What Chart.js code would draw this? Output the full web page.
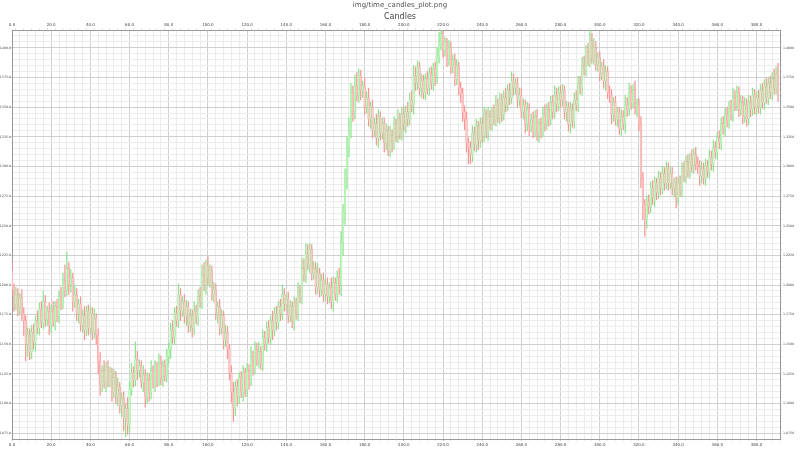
<!DOCTYPE html>
<html>
<head>
<meta charset="utf-8">
<script src="https://cdn.jsdelivr.net/npm/chart.js@4.4.1/dist/chart.umd.min.js"></script>
<style>
  body { margin: 0; background: #fff; }
  canvas { display: block; }
</style>
</head>
<body>
<canvas id="graph" width="800" height="450"></canvas>
<script>
// closing prices, one per candle (open = previous close)
const firstOpen = 1212;
const closes = [
  1196,1184,1192,1180,1189,1176,1170,1150,1158,1143,
  1160,1152,1170,1164,1180,1168,1186,1171,1178,1166,
  1178,1170,1182,1174,1190,1184,1204,1196,1214,1200,
  1206,1186,1192,1176,1184,1166,1174,1162,1178,1164,
  1176,1160,1172,1158,1136,1116,1128,1118,1130,1120,
  1126,1110,1122,1106,1114,1098,1104,1088,1096,1082,
  1112,1126,1120,1138,1128,1132,1118,1124,1106,1120,
  1110,1128,1118,1130,1120,1134,1122,1132,1124,1140,
  1146,1162,1156,1176,1170,1192,1178,1186,1174,1182,
  1166,1174,1164,1178,1172,1190,1186,1208,1200,1216,
  1206,1212,1192,1196,1176,1182,1164,1174,1154,1160,
  1146,1126,1110,1096,1114,1106,1122,1110,1126,1112,
  1128,1120,1140,1130,1146,1138,1144,1134,1156,1150,
  1164,1156,1170,1162,1176,1168,1182,1176,1192,1184,
  1188,1174,1182,1170,1184,1176,1194,1190,1214,1208,
  1226,1218,1230,1210,1214,1198,1210,1196,1204,1192,
  1200,1190,1198,1186,1202,1192,1206,1200,1236,1262,
  1290,1316,1330,1362,1346,1368,1360,1376,1364,1368,
  1350,1358,1340,1350,1330,1336,1324,1342,1328,1336,
  1320,1330,1314,1326,1320,1336,1326,1340,1328,1344,
  1336,1346,1340,1356,1352,1376,1370,1384,1366,1372,
  1362,1374,1366,1378,1370,1382,1376,1392,1404,1412,
  1398,1404,1390,1400,1384,1390,1374,1384,1366,1362,
  1346,1340,1320,1316,1310,1328,1318,1334,1322,1336,
  1326,1344,1330,1342,1336,1346,1340,1352,1342,1356,
  1344,1358,1352,1364,1358,1372,1366,1370,1356,1360,
  1346,1352,1336,1348,1334,1340,1330,1342,1328,1336,
  1330,1344,1336,1348,1340,1354,1346,1360,1352,1362,
  1356,1364,1346,1350,1336,1348,1338,1356,1352,1370,
  1366,1384,1382,1396,1390,1406,1392,1400,1386,1392,
  1378,1384,1372,1380,1362,1360,1344,1354,1340,1346,
  1332,1342,1336,1352,1348,1362,1354,1364,1350,1352,
  1336,1290,1268,1256,1270,1266,1282,1274,1286,1278,
  1290,1282,1294,1286,1298,1286,1294,1282,1286,1274,
  1286,1280,1298,1292,1304,1296,1306,1300,1310,1302,
  1300,1292,1298,1290,1300,1296,1308,1302,1316,1312,
  1324,1320,1336,1332,1344,1338,1350,1344,1358,1352,
  1362,1348,1354,1342,1352,1340,1354,1348,1360,1350,
  1358,1350,1364,1354,1368,1358,1370,1362,1374,1366,
  1378,1364
];
// wick length above / below the body
const wickUp = [
  9,5,6,5,4,7,5,4,6,5, 6,7,4,8,5,6,9,5,4,7, 5,8,4,6,5,8,6,13,14,5, 7,4,8,5,4,6,5,8,4,5,
  6,5,8,4,5,7,4,8,5,6, 5,4,7,5,8,4,5,6,4,9, 6,8,5,14,6,5,4,8,5,6, 5,8,4,6,5,8,6,4,5,6,
  5,6,8,5,6,9,5,4,6,5, 4,6,5,8,5,6,8,9,11,5, 8,5,4,6,5,4,6,5,4,6, 5,4,6,8,5,6,4,5,6,4,
  6,5,8,4,6,5,8,4,6,5, 5,6,4,8,5,6,4,6,8,5, 4,6,5,4,6,5,8,6,9,8, 9,8,5,4,6,5,8,4,5,6,
  5,6,4,8,5,4,6,8,9,6, 8,9,11,8,6,9,11,6,5,4, 6,5,8,4,6,5,8,6,4,5, 5,6,4,8,5,6,4,8,5,6,
  6,5,8,6,8,9,8,5,4,6, 5,4,6,5,6,5,6,8,9,6, 8,5,4,6,5,4,5,6,4,5, 4,5,6,4,5,6,5,6,4,5,
  5,6,4,8,5,4,6,8,5,6, 5,6,8,5,6,8,6,4,5,6, 6,5,4,6,5,4,6,5,6,4, 5,6,8,5,6,5,6,8,6,5,
  6,5,4,5,4,6,5,6,8,6, 6,8,9,6,8,10,6,8,5,4, 5,4,6,5,4,6,5,4,5,4, 4,6,5,8,6,8,6,5,8,5,
  5,6,5,4,5,6,5,6,5,4, 6,5,6,5,6,5,6,5,4,5, 5,6,5,6,5,6,5,8,5,6, 6,5,6,5,6,5,6,5,6,5,
  5,6,5,6,5,6,5,6,8,6, 6,5,6,5,6,5,6,5,6,5, 5,6,5,6,5,6,5,6,5,8, 6,9
];
const wickDown = [
  5,6,5,6,5,6,13,14,10,6, 5,6,8,5,6,4,5,6,5,8, 6,5,8,5,6,5,4,6,5,8, 6,8,5,6,8,5,6,8,5,6,
  5,6,5,8,11,9,6,5,8,6, 6,8,5,6,8,6,9,11,16,8, 6,5,6,5,8,6,5,8,9,6, 8,6,5,8,6,5,6,8,5,6,
  6,8,5,6,5,6,8,5,6,8, 6,5,8,6,5,6,5,6,5,8, 6,8,5,6,5,8,6,5,8,6, 8,6,9,11,6,8,6,5,8,6,
  6,8,5,6,5,6,8,5,6,5, 6,5,6,8,5,6,5,6,5,6, 5,6,5,6,8,5,6,5,6,5, 6,5,8,6,5,6,5,6,5,6,
  5,6,5,6,8,5,6,8,9,11, 11,9,8,6,8,6,5,6,8,6, 6,5,6,8,6,5,6,8,6,5, 8,6,5,6,8,6,5,6,5,6,
  6,8,6,5,6,8,6,5,6,8, 5,6,5,6,5,6,8,6,5,6, 6,5,6,5,6,5,6,5,6,8, 8,9,8,14,8,6,5,6,8,6,
  6,5,6,8,5,6,5,6,5,6, 6,5,6,5,6,5,6,5,6,5, 5,6,8,6,8,5,6,5,6,8, 6,5,6,5,6,5,6,5,6,5,
  6,5,6,8,6,8,5,6,5,6, 5,6,5,6,5,6,5,6,5,6, 6,5,6,8,5,6,8,6,5,6, 5,6,5,8,6,5,6,5,6,8,
  6,8,13,15,8,6,5,6,8,6, 5,6,5,6,5,6,5,6,8,9, 6,5,6,5,6,5,6,5,6,5, 6,8,6,5,6,5,6,5,6,5,
  6,5,6,5,6,5,6,5,6,5, 5,6,5,6,5,6,5,6,5,6, 6,5,6,5,6,5,6,5,6,5, 5,9
];

const xTickStep = 4;   // minor step, labels every 20
const yTickStep = 5;   // minor step, labels every 25

const corps = [];
const meches = [];
const couleurs = [];
const couleursBord = [];
let prev = firstOpen;
for (let i = 0; i < closes.length; i++) {
  const o = prev, c = closes[i];
  corps.push({ x: i, y: [o, c] });
  meches.push({ x: i, y: [Math.min(o, c) - wickDown[i], Math.max(o, c) + wickUp[i]] });
  if (c >= o) { couleurs.push('rgba(195,250,195,1)'); couleursBord.push('rgba(140,228,140,1)'); }
  else { couleurs.push('rgba(255,200,200,1)'); couleursBord.push('rgba(248,150,150,1)'); }
  prev = c;
}

const fonte = { family: 'DejaVu Sans', size: 4 };
const fonteY = { family: 'DejaVu Sans', size: 3.2 };

function grilleX(ctx) {
  const v = ctx.tick ? ctx.tick.value : 0;
  return v % 20 === 0 ? '#cfcfcf' : '#ececec';
}
function grilleY(ctx) {
  const v = ctx.tick ? ctx.tick.value : 0;
  return v % 25 === 0 ? '#cfcfcf' : '#ececec';
}

new Chart(document.getElementById('graph'), {
  type: 'bar',
  data: {
    datasets: [
      { data: corps, backgroundColor: couleurs, borderColor: couleursBord, borderWidth: 0.4, barThickness: 1.6, grouped: false, order: 0, yAxisID: 'y' },
      { data: meches, backgroundColor: couleursBord, borderWidth: 0, barThickness: 0.6, grouped: false, order: 1, yAxisID: 'y' }
    ]
  },
  options: {
    responsive: false,
    animation: false,
    layout: { padding: { left: 0, right: 0, top: 0, bottom: 2 } },
    plugins: {
      legend: { display: false },
      tooltip: { enabled: false },
      title: { display: true, text: 'img/time_candles_plot.png', color: '#555', font: { family: 'DejaVu Sans', size: 7, weight: 'normal' }, padding: { top: 1, bottom: 3 } },
      subtitle: { display: true, text: 'Candles', color: '#444', font: { family: 'DejaVu Sans', size: 8 }, padding: { top: 0, bottom: 1 } }
    },
    scales: {
      x: {
        type: 'linear', position: 'bottom', min: 0, max: 392, offset: false,
        ticks: { stepSize: xTickStep, autoSkip: false, maxRotation: 0, font: fonte, color: '#444', padding: 1,
          callback: v => v % 20 === 0 ? v.toFixed(1) : '' },
        grid: { color: grilleX, offset: false, tickLength: 2 },
        border: { color: '#999' }
      },
      x2: {
        type: 'linear', position: 'top', min: 0, max: 392, offset: false,
        ticks: { stepSize: xTickStep, autoSkip: false, maxRotation: 0, font: fonte, color: '#444', padding: 1,
          callback: v => v % 20 === 0 ? v.toFixed(1) : '' },
        grid: { drawOnChartArea: false, tickLength: 2 },
        border: { color: '#999' },
        afterFit: s => { s.height = 7; }
      },
      y: {
        position: 'left', min: 1070, max: 1415,
        ticks: { stepSize: yTickStep, autoSkip: false, font: fonteY, color: '#444', padding: 0,
          callback: v => v % 25 === 0 ? v.toFixed(1) : '' },
        grid: { color: grilleY, tickLength: 1 },
        border: { color: '#999' },
        afterFit: s => { s.width = 12; }
      },
      y2: {
        position: 'right', min: 1070, max: 1415,
        ticks: { stepSize: yTickStep, autoSkip: false, font: fonteY, color: '#444', padding: 1,
          callback: v => v % 25 === 0 ? (v / 1000).toFixed(4) : '' },
        grid: { drawOnChartArea: false, tickLength: 2 },
        border: { color: '#999' },
        afterFit: s => { s.width = 20; }
      }
    }
  }
});
</script>
</body>
</html>
